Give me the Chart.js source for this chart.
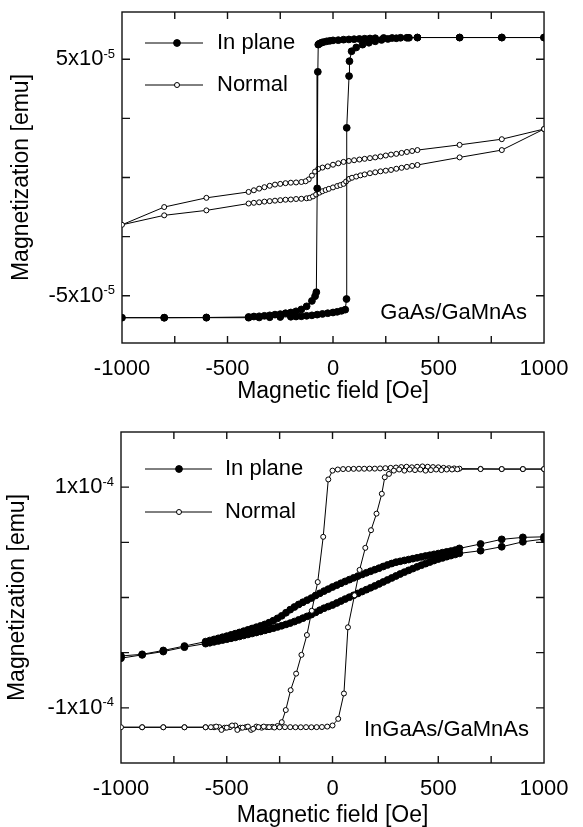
<!DOCTYPE html>
<html>
<head>
<meta charset="utf-8">
<script src="https://cdn.jsdelivr.net/npm/chart.js@4.4.1/dist/chart.umd.min.js"></script>
<style>
  body { margin: 0; background: #fff; }
  canvas { display: block; }
</style>
</head>
<body>
<canvas id="top" width="583" height="410"></canvas>
<canvas id="bottom" width="583" height="417"></canvas>
<script>
// x axis (Oe)
const fieldTicks = [-1000, -750, -500, -250, 0, 250, 500, 750, 1000];
const fieldLabels = [-1000, -500, 0, 500, 1000];

// top panel, magnetization in units of 1e-5 emu
const topYTicks = [-5, -2.5, 0, 2.5, 5];
const topYLabelValues = [5, -5];
const topYLabelText = ['5x10', '-5x10'];
const topYExp = '-5';

// In plane, GaAs/GaMnAs: descending branch then ascending branch
const topInPlaneField = [
  1000, 800, 600, 400, 360, 320, 280, 240, 200, 175, 150, 125, 100, 75, 50, 25, 0,
  -15, -30, -45, -55, -65, -70, -72, -75, -79,
  -85, -100, -125, -150, -175, -200, -225, -250, -275, -300, -325, -350, -375, -400,
  -600, -800, -1000,
  -800, -600, -400, -350, -300, -250, -200, -175, -150, -125, -100, -75, -50, -25, 0,
  20, 40, 58, 64, 65, 76, 78, 88, 110, 140, 170, 200, 230, 260, 300, 350, 400, 600, 800, 1000
];
const topInPlaneM = [
  5.92, 5.92, 5.92, 5.92, 5.91, 5.91, 5.90, 5.90, 5.89, 5.88, 5.87, 5.86, 5.85, 5.84, 5.83, 5.81, 5.80,
  5.78, 5.76, 5.73, 5.70, 5.66, 5.62, 4.47, -0.46, -4.85,
  -5.02, -5.22, -5.45, -5.58, -5.66, -5.71, -5.74, -5.78, -5.80, -5.83, -5.85, -5.87, -5.88, -5.90,
  -5.92, -5.93, -5.93,
  -5.93, -5.93, -5.93, -5.92, -5.91, -5.90, -5.89, -5.88, -5.87, -5.85, -5.83, -5.80, -5.77, -5.74, -5.71,
  -5.68, -5.64, -5.59, -5.14, 2.10, 4.29, 4.92, 5.34, 5.50, 5.62, 5.70, 5.76, 5.82, 5.86, 5.89, 5.91, 5.92, 5.92, 5.92, 5.92
];

// Normal, GaAs/GaMnAs
const topNormalField = [
  1000, 800, 600, 400, 375, 350, 325, 300, 275, 250, 225, 200, 175, 150, 125, 100, 75, 50, 25, 0,
  -25, -50, -70, -85, -100, -115, -130, -150, -175, -200, -225, -250, -275, -300, -325, -350, -375, -400,
  -600, -800, -1000,
  -800, -600, -400, -375, -350, -325, -300, -275, -250, -225, -200, -175, -150, -125,
  -110, -95, -80, -64, -50, -35, -20, 0, 20, 35, 50, 62, 76, 90, 110, 130, 150,
  175, 200, 225, 250, 275, 300, 325, 350, 375, 400, 600, 800, 1000
];
const topNormalM = [
  2.05, 1.62, 1.38, 1.16, 1.12, 1.08, 1.04, 1.00, 0.97, 0.93, 0.89, 0.85, 0.82, 0.79, 0.76, 0.73, 0.70, 0.66, 0.60, 0.54,
  0.47, 0.42, 0.36, 0.25, 0.08, -0.08, -0.16, -0.19, -0.21, -0.22, -0.24, -0.27, -0.30, -0.35, -0.41, -0.47, -0.54, -0.61,
  -0.86, -1.25, -2.00,
  -1.60, -1.39, -1.10, -1.07, -1.05, -1.02, -1.00, -0.98, -0.96, -0.94, -0.93, -0.91, -0.90, -0.88,
  -0.86, -0.80, -0.72, -0.64, -0.58, -0.53, -0.48, -0.42, -0.36, -0.32, -0.27, -0.17, -0.06, -0.01, 0.04, 0.09, 0.13,
  0.18, 0.22, 0.26, 0.29, 0.32, 0.37, 0.41, 0.45, 0.49, 0.53, 0.85, 1.16, 2.05
];

// bottom panel, magnetization in units of 1e-4 emu
const bottomYTicks = [-1, -0.5, 0, 0.5, 1];
const bottomYLabelValues = [1, -1];
const bottomYLabelText = ['1x10', '-1x10'];
const bottomYExp = '-4';

// In plane, InGaAs/GaMnAs
const bottomInPlaneField = [
  1000, 900, 800, 700,
  600, 580, 560, 540, 520, 500, 480, 460, 440, 420, 400, 380, 360, 340, 320, 300,
  280, 260, 240, 220, 200, 180, 160, 140, 120, 100, 80, 60, 40, 20, 0,
  -20, -40, -60, -80, -100, -120, -140, -160, -180, -200, -220, -240, -260, -280, -300,
  -320, -340, -360, -380, -400, -420, -440, -460, -480, -500, -520, -540, -560, -580, -600,
  -700, -800, -900, -1000,
  -1000, -900, -800, -700,
  -600, -580, -560, -540, -520, -500, -480, -460, -440, -420, -400, -380, -360, -340, -320, -300,
  -280, -260, -240, -220, -200, -180, -160, -140, -120, -100, -80, -60, -40, -20, 0,
  20, 40, 60, 80, 100, 120, 140, 160, 180, 200, 220, 240, 260, 280, 300,
  320, 340, 360, 380, 400, 420, 440, 460, 480, 500, 520, 540, 560, 580, 600,
  700, 800, 900, 1000
];
const bottomInPlaneM = [
  0.550, 0.545, 0.527, 0.485,
  0.445, 0.430, 0.421, 0.414, 0.406, 0.398, 0.391, 0.383, 0.376, 0.368, 0.360, 0.352, 0.344, 0.336, 0.328, 0.320,
  0.308, 0.295, 0.281, 0.266, 0.252, 0.238, 0.224, 0.209, 0.194, 0.178, 0.162, 0.146, 0.129, 0.112, 0.095,
  0.076, 0.058, 0.038, 0.018, -0.005, -0.024, -0.043, -0.063, -0.086, -0.110, -0.138, -0.166, -0.189, -0.210, -0.228,
  -0.244, -0.257, -0.269, -0.281, -0.293, -0.305, -0.317, -0.328, -0.339, -0.350, -0.360, -0.370, -0.380, -0.390, -0.400,
  -0.440, -0.480, -0.515, -0.530,
  -0.550, -0.520, -0.490, -0.450,
  -0.418, -0.410, -0.402, -0.394, -0.386, -0.378, -0.370, -0.362, -0.353, -0.344, -0.335, -0.326, -0.317, -0.308, -0.298, -0.288,
  -0.278, -0.267, -0.256, -0.244, -0.232, -0.218, -0.203, -0.187, -0.171, -0.155, -0.135, -0.115, -0.097, -0.082, -0.068,
  -0.050, -0.032, -0.014, 0.003, 0.020, 0.037, 0.054, 0.071, 0.088, 0.105, 0.123, 0.141, 0.159, 0.177, 0.195,
  0.213, 0.230, 0.246, 0.262, 0.278, 0.293, 0.307, 0.321, 0.335, 0.348, 0.359, 0.370, 0.380, 0.390, 0.400,
  0.424, 0.460, 0.505, 0.530
];

// Normal, InGaAs/GaMnAs
const bottomNormalField = [
  1000, 900, 800, 700, 600,
  575, 550, 525, 500, 475, 450, 425, 400, 375, 350, 325, 300, 275, 250, 225, 200, 175, 150, 125, 100, 75, 50, 25, 0,
  -20, -44, -70, -98, -121, -147, -172, -198, -221, -240,
  -260, -285, -310, -335, -360, -385, -410, -435, -460, -485, -510, -535, -560,
  -600, -700, -800, -900, -1000,
  -900, -800, -700, -600,
  -575, -550, -525, -500, -475, -450, -425, -400, -375, -350, -325, -300, -275, -250, -225, -200, -175, -150, -125, -100, -75, -50, -25, 0,
  27, 54, 73, 104, 128, 155, 182, 208, 233, 247, 267, 290,
  315, 340, 365, 390, 415, 440, 465, 490, 515, 540, 565, 590,
  700, 800, 900, 1000
];
const bottomNormalM = [
  1.164, 1.164, 1.164, 1.166, 1.168,
  1.170, 1.172, 1.175, 1.180, 1.182, 1.185, 1.188, 1.185, 1.180, 1.185, 1.182, 1.178, 1.175, 1.172, 1.170, 1.168, 1.168, 1.167, 1.167, 1.166, 1.165, 1.164, 1.160, 1.150,
  1.07, 0.55, 0.14, -0.12, -0.34, -0.52, -0.69, -0.84, -1.02, -1.13,
  -1.165, -1.172, -1.175, -1.180, -1.170, -1.200, -1.175, -1.180, -1.160, -1.175, -1.180, -1.175, -1.176,
  -1.176, -1.176, -1.176, -1.176, -1.176,
  -1.176, -1.176, -1.176, -1.176,
  -1.175, -1.170, -1.200, -1.180, -1.160, -1.200, -1.180, -1.170, -1.190, -1.175, -1.170, -1.175, -1.178, -1.176, -1.175, -1.175, -1.176, -1.176, -1.175, -1.176, -1.175, -1.174, -1.170, -1.160,
  -1.10, -0.87, -0.27, 0.02, 0.25, 0.45, 0.61, 0.76, 0.94, 1.09, 1.12, 1.15,
  1.160, 1.150, 1.160, 1.155, 1.160, 1.150, 1.155, 1.160, 1.155, 1.160, 1.160, 1.162,
  1.164, 1.164, 1.164, 1.164
];

const FONT = '"Liberation Sans", Arial, sans-serif';

function points(fields, moments) {
  return fields.map((f, i) => ({ x: f, y: moments[i] }));
}

const inPlaneStyle = {
  label: 'In plane', showLine: true, tension: 0,
  borderColor: '#000', borderWidth: 1,
  pointRadius: 3.4, pointBackgroundColor: '#000', pointBorderColor: '#000', pointBorderWidth: 1
};
const normalStyle = {
  label: 'Normal', showLine: true, tension: 0,
  borderColor: '#000', borderWidth: 1,
  pointRadius: 2.5, pointBackgroundColor: '#fff', pointBorderColor: '#000', pointBorderWidth: 1
};

// frame with inward ticks, y labels with exponent, y title, legend and sample name
const framePlugin = {
  id: 'frame',
  beforeDatasetsDraw(chart, args, o) {
    const { ctx, chartArea: a, scales: { x, y } } = chart;
    ctx.save();
    ctx.strokeStyle = '#111';
    ctx.lineWidth = 1.4;
    ctx.strokeRect(a.left, a.top, a.right - a.left, a.bottom - a.top);
    ctx.beginPath();
    fieldTicks.forEach(v => {
      if (v === x.min || v === x.max) return;
      const px = x.getPixelForValue(v);
      ctx.moveTo(px, a.bottom); ctx.lineTo(px, a.bottom - 7);
      ctx.moveTo(px, a.top); ctx.lineTo(px, a.top + 7);
    });
    o.yTicks.forEach(v => {
      const py = y.getPixelForValue(v);
      ctx.moveTo(a.left, py); ctx.lineTo(a.left + 8, py);
      ctx.moveTo(a.right, py); ctx.lineTo(a.right - 8, py);
    });
    ctx.stroke();
    ctx.restore();
  },
  afterDraw(chart, args, o) {
    const { ctx, chartArea: a, scales: { y } } = chart;
    ctx.save();
    ctx.fillStyle = '#000';
    ctx.textAlign = 'right';
    ctx.textBaseline = 'middle';
    o.yLabelValues.forEach((v, i) => {
      const py = y.getPixelForValue(v);
      const xr = a.left - 7;
      ctx.font = '13px ' + FONT;
      ctx.fillText(o.yExp, xr, py - 5);
      const w = ctx.measureText(o.yExp).width;
      ctx.font = '22px ' + FONT;
      ctx.fillText(o.yLabelText[i], xr - w, py);
    });

    // y title
    ctx.save();
    ctx.translate(a.left - o.yTitleOffset, (a.top + a.bottom) / 2);
    ctx.rotate(-Math.PI / 2);
    ctx.textAlign = 'center';
    ctx.font = '23px ' + FONT;
    ctx.fillText('Magnetization [emu]', 0, 0);
    ctx.restore();

    // legend
    const lg = o.legend;
    chart.data.datasets.forEach((ds, i) => {
      const ry = a.top + lg.rows[i];
      ctx.beginPath();
      ctx.strokeStyle = '#000';
      ctx.lineWidth = 1;
      ctx.moveTo(a.left + lg.line[0], ry);
      ctx.lineTo(a.left + lg.line[1], ry);
      ctx.stroke();
      ctx.beginPath();
      ctx.arc(a.left + lg.marker, ry, ds.pointRadius, 0, Math.PI * 2);
      ctx.fillStyle = ds.pointBackgroundColor;
      ctx.fill();
      ctx.stroke();
      ctx.fillStyle = '#000';
      ctx.textAlign = 'left';
      ctx.font = '22px ' + FONT;
      ctx.fillText(ds.label, a.left + lg.text, ry);
    });

    // sample name
    ctx.textAlign = 'right';
    ctx.font = '22px ' + FONT;
    ctx.fillText(o.note, a.right - o.noteRight, a.bottom - o.noteBottom);
    ctx.restore();
  }
};

function makeChart(id, datasets, o) {
  return new Chart(document.getElementById(id), {
    type: 'scatter',
    data: { datasets },
    options: {
      responsive: false,
      animation: false,
      layout: { padding: o.padding },
      plugins: { legend: { display: false }, tooltip: { enabled: false }, frame: o },
      scales: {
        x: {
          type: 'linear', min: -1000, max: 1000,
          afterBuildTicks: s => { s.ticks = fieldTicks.map(v => ({ value: v })); },
          grid: { display: false, drawTicks: false },
          border: { display: false },
          ticks: {
            padding: o.tickPad, color: '#000', maxRotation: 0, autoSkip: false,
            font: { family: FONT, size: 22, lineHeight: 1 },
            callback: v => fieldLabels.includes(v) ? String(v) : ''
          },
          title: {
            display: true, text: 'Magnetic field [Oe]', color: '#000',
            font: { family: FONT, size: 23, lineHeight: 1 },
            padding: { top: o.titlePad, bottom: 0 }
          }
        },
        y: { display: false, min: o.yMin, max: o.yMax }
      }
    },
    plugins: [framePlugin]
  });
}

makeChart('top', [
  Object.assign({ data: points(topInPlaneField, topInPlaneM), order: 0 }, inPlaneStyle),
  Object.assign({ data: points(topNormalField, topNormalM), order: 1 }, normalStyle)
], {
  padding: { left: 122, right: 31, top: 12, bottom: 6.5 },
  tickPad: 14.5, titlePad: -13.5,
  yMin: -7, yMax: 7, yTicks: topYTicks,
  yLabelValues: topYLabelValues, yLabelText: topYLabelText, yExp: topYExp,
  yTitleOffset: 100,
  legend: { rows: [31, 73], line: [23, 81], marker: 55, text: 95 },
  note: 'GaAs/GaMnAs', noteRight: 17, noteBottom: 30
});

makeChart('bottom', [
  Object.assign({ data: points(bottomInPlaneField, bottomInPlaneM), order: 1 }, inPlaneStyle),
  Object.assign({ data: points(bottomNormalField, bottomNormalM), order: 0 }, normalStyle)
], {
  padding: { left: 121, right: 33, top: 22, bottom: 0 },
  tickPad: 14.5, titlePad: -10,
  yMin: -1.5, yMax: 1.5, yTicks: bottomYTicks,
  yLabelValues: bottomYLabelValues, yLabelText: bottomYLabelText, yExp: bottomYExp,
  yTitleOffset: 103,
  legend: { rows: [37, 80], line: [24, 91], marker: 58, text: 104 },
  note: 'InGaAs/GaMnAs', noteRight: 15, noteBottom: 33
});
</script>
</body>
</html>
